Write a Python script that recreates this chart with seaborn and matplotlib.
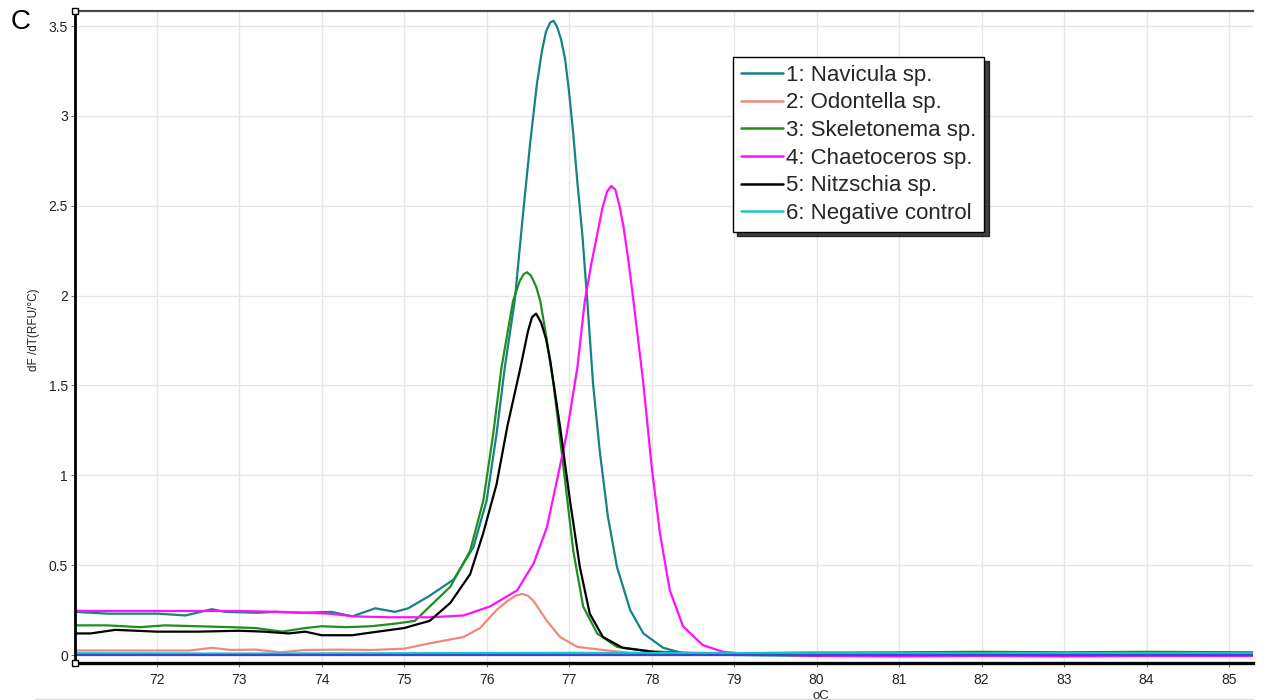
import numpy as np
import pandas as pd
import matplotlib
matplotlib.use("Agg")
import matplotlib.pyplot as plt
import seaborn as sns
from matplotlib.lines import Line2D

# ---------------- data ----------------
navicula_x = [71.01, 71.42, 72.02, 72.35, 72.67, 72.83, 73.23, 73.44, 73.76, 74.12, 74.37, 74.65,
              74.89, 75.05, 75.31, 75.6, 75.84, 76.0, 76.12, 76.22, 76.34, 76.44, 76.53, 76.61,
              76.67, 76.72, 76.77, 76.81, 76.85, 76.9, 76.95, 77.0, 77.05, 77.1, 77.16, 77.22,
              77.29, 77.37, 77.47, 77.58, 77.74, 77.9, 78.14, 78.38, 79.0, 80.0, 81.0, 82.0,
              83.0, 84.0, 85.3]
navicula_y = [0.24, 0.23, 0.23, 0.22, 0.255, 0.24, 0.235, 0.24, 0.235, 0.24, 0.215, 0.26,
              0.24, 0.26, 0.33, 0.42, 0.60, 0.86, 1.23, 1.60, 1.97, 2.45, 2.86, 3.18,
              3.36, 3.47, 3.52, 3.53, 3.50, 3.43, 3.32, 3.13, 2.90, 2.63, 2.34, 1.97,
              1.51, 1.14, 0.77, 0.49, 0.25, 0.12, 0.04, 0.01, 0.0, -0.005, 0.0, -0.005,
              0.0, 0.0, -0.003]

odontella_x = [71.01, 71.5, 72.0, 72.4, 72.67, 72.9, 73.2, 73.5, 73.8, 74.2, 74.6, 75.0, 75.31,
               75.72, 75.92, 76.12, 76.25, 76.35, 76.43, 76.5, 76.57, 76.73, 76.89, 77.1, 77.41,
               77.74, 78.2, 79.0, 80.0, 81.0, 82.0, 83.0, 84.0, 85.3]
odontella_y = [0.025, 0.025, 0.025, 0.025, 0.04, 0.028, 0.03, 0.015, 0.028, 0.03, 0.028, 0.035, 0.065,
               0.10, 0.15, 0.25, 0.30, 0.33, 0.34, 0.33, 0.30, 0.19, 0.10, 0.045, 0.028,
               0.012, 0.01, 0.01, 0.015, 0.01, 0.015, 0.012, 0.015, 0.01]

skeletonema_x = [71.01, 71.4, 71.8, 72.1, 72.5, 72.9, 73.2, 73.52, 73.8, 74.0, 74.3, 74.6, 74.9,
                 75.13, 75.31, 75.56, 75.8, 75.96, 76.08, 76.18, 76.32, 76.4, 76.45, 76.49,
                 76.54, 76.6, 76.65, 76.72, 76.81, 76.93, 77.05, 77.17, 77.34, 77.58, 78.0, 78.5,
                 79.0, 80.0, 81.0, 82.0, 83.0, 84.0, 85.3]
skeletonema_y = [0.165, 0.165, 0.155, 0.165, 0.16, 0.155, 0.15, 0.13, 0.15, 0.16, 0.155, 0.16, 0.175,
                 0.19, 0.27, 0.38, 0.58, 0.86, 1.23, 1.60, 1.97, 2.08, 2.12, 2.13,
                 2.11, 2.05, 1.97, 1.78, 1.51, 1.05, 0.58, 0.27, 0.12, 0.045, 0.02, 0.012,
                 0.01, 0.012, 0.015, 0.018, 0.015, 0.018, 0.015]

chaetoceros_x = [71.01, 71.5, 72.0, 72.5, 73.0, 73.5, 73.8, 74.1, 74.4, 74.8, 75.13, 75.31, 75.72,
                 76.04, 76.37, 76.57, 76.73, 76.87, 76.97, 77.1, 77.19, 77.27, 77.34, 77.4,
                 77.46, 77.51, 77.56, 77.61, 77.66, 77.72, 77.78, 77.9, 78.0, 78.1, 78.22, 78.38,
                 78.62, 78.87, 79.2, 80.0, 81.0, 82.0, 83.0, 84.0, 85.3]
chaetoceros_y = [0.246, 0.245, 0.245, 0.245, 0.245, 0.24, 0.235, 0.23, 0.215, 0.21, 0.21, 0.21, 0.22,
                 0.27, 0.36, 0.51, 0.71, 1.01, 1.23, 1.60, 1.97, 2.18, 2.34, 2.48,
                 2.58, 2.61, 2.59, 2.50, 2.38, 2.19, 1.97, 1.51, 1.05, 0.68, 0.36, 0.16,
                 0.055, 0.017, 0.005, -0.005, -0.008, -0.005, -0.008, -0.005, -0.005]

nitzschia_x = [71.01, 71.2, 71.5, 72.0, 72.5, 73.0, 73.3, 73.6, 73.8, 74.0, 74.37, 74.6, 75.0,
               75.13, 75.31, 75.56, 75.8, 75.96, 76.12, 76.25, 76.41, 76.5, 76.55, 76.6, 76.66,
               76.72, 76.77, 76.89, 77.01, 77.13, 77.25, 77.41, 77.65, 78.14, 79.0, 80.0, 81.0,
               82.0, 83.0, 84.0, 85.3]
nitzschia_y = [0.12, 0.12, 0.14, 0.13, 0.13, 0.135, 0.13, 0.12, 0.13, 0.11, 0.11, 0.125, 0.15,
               0.167, 0.19, 0.29, 0.45, 0.68, 0.95, 1.27, 1.60, 1.80, 1.88, 1.90, 1.85,
               1.76, 1.64, 1.27, 0.86, 0.49, 0.23, 0.10, 0.04, 0.01, 0.005, 0.0, 0.005,
               0.01, 0.0, 0.005, 0.008]

negative_x = [71.01, 73.0, 75.0, 77.0, 79.0, 81.0, 83.0, 85.3]
negative_y = [0.010, 0.008, 0.010, 0.012, 0.010, 0.010, 0.010, 0.010]

baseline_x = [71.01, 85.3]
baseline_y = [0.0, 0.0]

sample_names = ["1: Navicula sp.", "2: Odontella sp.", "3: Skeletonema sp.",
                "4: Chaetoceros sp.", "5: Nitzschia sp.", "6: Negative control"]
sample_colors = ["#178282", "#f08880", "#1f8f1f", "#ff10ff", "#000000", "#22c3c8"]

x_ticks = [72, 73, 74, 75, 76, 77, 78, 79, 80, 81, 82, 83, 84, 85]
y_ticks = [0, 0.5, 1, 1.5, 2, 2.5, 3, 3.5]
y_tick_labels = ["0", "0.5", "1", "1.5", "2", "2.5", "3", "3.5"]

# ---------------- build long table ----------------
series_x = [navicula_x, odontella_x, skeletonema_x, chaetoceros_x, nitzschia_x, negative_x]
series_y = [navicula_y, odontella_y, skeletonema_y, chaetoceros_y, nitzschia_y, negative_y]
frames = []
for name, xs, ys in zip(sample_names, series_x, series_y):
    frames.append(pd.DataFrame({"temp": xs, "dfdt": ys, "sample": name}))
df = pd.concat(frames, ignore_index=True)
base_df = pd.DataFrame({"temp": baseline_x, "dfdt": baseline_y})

# ---------------- style ----------------
sns.set_style("white")
plt.rcParams["font.family"] = ["Liberation Sans", "DejaVu Sans"]

fig = plt.figure(figsize=(12.66, 7.0), dpi=100)
ax = fig.add_axes([75 / 1266, 37 / 700, (1253 - 75) / 1266, (663 - 11) / 700])

sns.lineplot(data=df, x="temp", y="dfdt", hue="sample", hue_order=sample_names,
             palette=dict(zip(sample_names, sample_colors)), estimator=None, sort=False,
             linewidth=1.6, ax=ax)
sns.lineplot(data=base_df, x="temp", y="dfdt", color="#2a4fd0", estimator=None,
             sort=False, linewidth=1.6, ax=ax, label="_nolegend_")

ax.set_xlim(71.01, 85.29)
ax.set_ylim(-0.0445, 3.584)
ax.set_xticks(x_ticks)
ax.set_xticklabels([str(t) for t in x_ticks])
ax.set_yticks(y_ticks)
ax.set_yticklabels(y_tick_labels)

ax.grid(True, color="#e6e6e6", linewidth=1.0)
ax.set_axisbelow(True)

ax.spines["right"].set_visible(False)
ax.spines["left"].set_color("black")
ax.spines["left"].set_linewidth(2.0)
ax.spines["bottom"].set_color("black")
ax.spines["bottom"].set_linewidth(2.4)
ax.spines["top"].set_color("#4a4a4a")
ax.spines["top"].set_linewidth(1.6)

ax.tick_params(axis="both", which="major", direction="out", length=3, width=0.8,
               color="#777777", labelcolor="#222222", labelsize=10)
ax.tick_params(axis="y", pad=2, left=True)
ax.tick_params(axis="x", pad=4, bottom=True)

ax.set_xlabel("oC", fontsize=9.5, color="#222222")
ax.set_ylabel("dF /dT(RFU/°C)", fontsize=8.5, color="#222222")
ax.xaxis.set_label_coords(0.633, -0.041)
ax.yaxis.set_label_coords(-0.030, 0.511)

# small square handles at the axis corners
ax.plot([0, 0], [1, 0], transform=ax.transAxes, linestyle="none", marker="s",
        markersize=4.5, markerfacecolor="white", markeredgecolor="black",
        markeredgewidth=1.0, clip_on=False, zorder=10)

# legend
handles, labels = ax.get_legend_handles_labels()
pairs = [(h, l) for h, l in zip(handles, labels) if l in sample_names]
leg = ax.legend([p[0] for p in pairs], [p[1] for p in pairs],
                loc="upper left", bbox_to_anchor=(733 / 1266, 1 - 57 / 700),
                bbox_transform=fig.transFigure, borderaxespad=0,
                fontsize=16, handlelength=1.9, handletextpad=0.15,
                labelspacing=0.3, borderpad=0.35, fancybox=False,
                frameon=True, edgecolor="black", facecolor="white", framealpha=1,
                shadow={"color": "black", "alpha": 0.75, "ox": 3, "oy": -3})
leg.get_frame().set_linewidth(1.0)
for line in leg.get_lines():
    line.set_linewidth(1.8)

# panel letter
fig.text(11 / 1266, 1 - 22 / 700, "C", fontsize=20, va="center", ha="left", color="black")

# faint separator line at the bottom
fig.add_artist(Line2D([35 / 1266, 1253 / 1266], [1 - 698.5 / 700, 1 - 698.5 / 700],
                      transform=fig.transFigure, color="#dddddd", linewidth=1.0))

fig.savefig("out.png", dpi=100)
